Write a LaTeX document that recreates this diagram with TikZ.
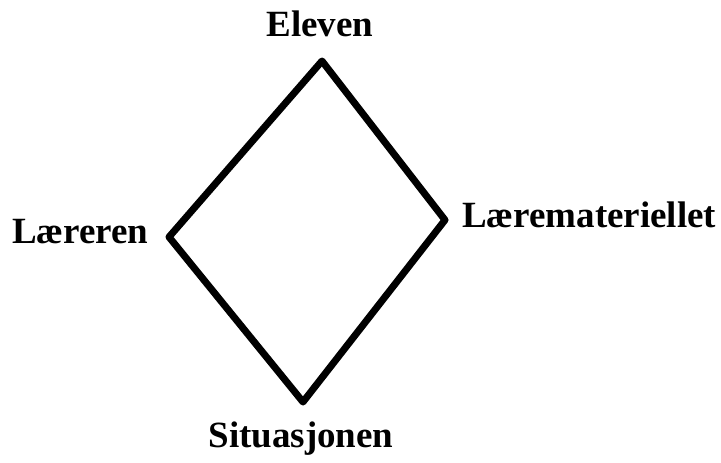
\documentclass[tikz,border=0pt]{standalone}
\usepackage{fontspec}
\setmainfont{Liberation Serif}
\usetikzlibrary{positioning}

\begin{document}
\begin{tikzpicture}[
  x=1pt, y=-1pt,
  lbl/.style={inner sep=0pt, font=\fontsize{37}{41}\selectfont\bfseries},
  side/.style={line width=7pt, line join=round, line cap=round}
]
  \useasboundingbox (0,0) rectangle (721,463);
  % corners of the diamond
  \coordinate (top) at (322,61);
  \coordinate (right) at (445,220);
  \coordinate (bottom) at (303,402);
  \coordinate (left) at (169,237);
  \draw[side] (top) -- (right) -- (bottom) -- (left) -- cycle;
  % labels
  \node[lbl, anchor=base] (eleven) at (320,36) {Eleven};
  \node[lbl, anchor=base west] (materiell) at (462,227) {Læremateriellet};
  \node[lbl, anchor=base west] (laerer) at (12,243) {Læreren};
  \node[lbl, anchor=base] (situasjon) at (301,447) {Situasjonen};
\end{tikzpicture}
\end{document}
